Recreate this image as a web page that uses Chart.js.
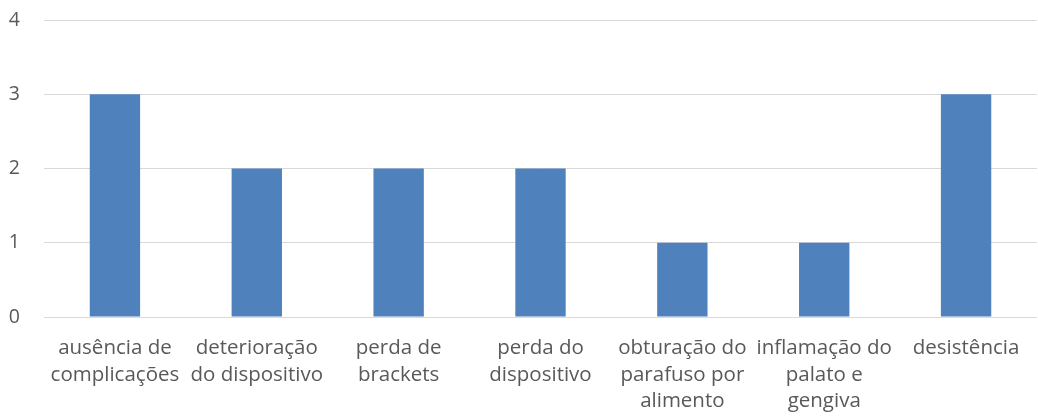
<!DOCTYPE html>
<html>
<head>
<meta charset="utf-8">
<script src="https://cdn.jsdelivr.net/npm/chart.js@4"></script>
<style>
  html, body { margin: 0; padding: 0; background: #fff; }
  #wrap { width: 1038px; height: 417px; position: relative; }
</style>
</head>
<body>
<div id="wrap"><canvas id="barChart"></canvas></div>
<script>
// Data
const categories = [
    ['ausência de', 'complicações'],
    ['deterioração', 'do dispositivo'],
    ['perda de', 'brackets'],
    ['perda do', 'dispositivo'],
    ['obturação do', 'parafuso por', 'alimento'],
    ['inflamação do', 'palato e', 'gengiva'],
    ['desistência']
];
const values = [3, 2, 2, 2, 1, 1, 3];
const yTicks = [0, 1, 2, 3, 4];

const textColor = '#595959';
const gridColor = '#d9d9d9';
const fontFamily = '"Open Sans", "Noto Sans", sans-serif';

const ctx = document.getElementById('barChart').getContext('2d');
new Chart(ctx, {
    type: 'bar',
    data: {
        labels: categories,
        datasets: [{
            label: 'Série 1',
            data: values,
            backgroundColor: '#4f81bd',
            borderWidth: 0,
            categoryPercentage: 1,
            barPercentage: 0.355
        }]
    },
    options: {
        responsive: true,
        maintainAspectRatio: false,
        animation: false,
        layout: { padding: { top: 20, right: 1, left: 0, bottom: 0 } },
        plugins: {
            legend: { display: false },
            tooltip: { enabled: false }
        },
        scales: {
            x: {
                grid: { display: false },
                border: { display: false },
                ticks: {
                    color: textColor,
                    font: { family: fontFamily, size: 20.5, lineHeight: '26.5px' },
                    maxRotation: 0,
                    autoSkip: false,
                    padding: 10
                },
                afterFit: (scale) => { scale.height = 100; }
            },
            y: {
                min: yTicks[0],
                max: yTicks[yTicks.length - 1],
                afterBuildTicks: (scale) => {
                    scale.ticks = yTicks.map(v => ({ value: v }));
                },
                grid: { color: gridColor, lineWidth: 1, drawTicks: false },
                border: { display: false },
                ticks: {
                    color: textColor,
                    font: { family: fontFamily, size: 19.5 },
                    padding: 24
                },
                afterFit: (scale) => {
                    scale.width = 44;
                    scale.paddingTop = 0;
                    scale.paddingBottom = 0;
                }
            }
        }
    }
});
</script>
</body>
</html>
